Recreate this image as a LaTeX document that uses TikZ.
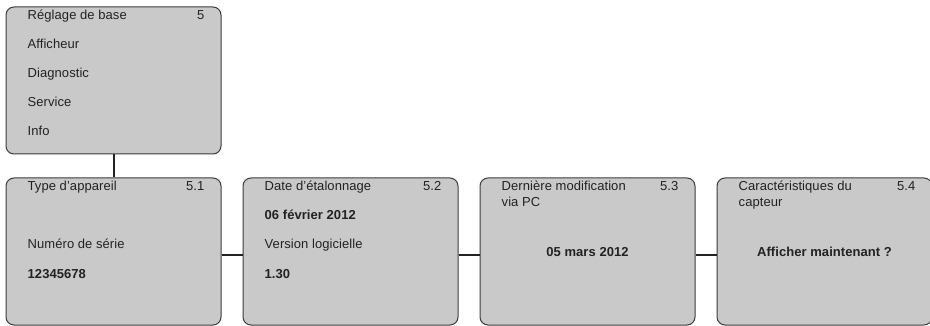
\documentclass[tikz,border=0pt]{standalone}
\usepackage{fontspec}
\setmainfont[LetterSpace=0.5]{Liberation Sans}
\usepackage{tikz}
\usetikzlibrary{positioning,calc}
\definecolor{panelgray}{HTML}{C9C9C9}
\definecolor{framegray}{HTML}{3C3C3C}
\definecolor{inkgray}{HTML}{222222}

\begin{document}
\begin{tikzpicture}[
  x=1pt, y=-1pt,
  font=\fontsize{13}{16}\selectfont,
  node distance=21pt,
  panel/.style={rounded corners=8pt, draw=framegray, line width=1pt, fill=panelgray, minimum width=215pt, minimum height=147pt, inner sep=0pt},
  entry/.style={anchor=base west, inner sep=0pt, text=inkgray, align=left},
  idx/.style={anchor=base east, inner sep=0pt, text=inkgray},
  value/.style={entry, font=\fontsize{13}{16}\selectfont\bfseries},
  link/.style={line width=2pt, draw=inkgray}
]
\useasboundingbox (0,0) rectangle (930,326);
\node[panel] (base) at (113.5,80.5) {};
\node[panel, below=23pt of base] (devtype) {};
\node[panel, right=of devtype] (calib) {};
\node[panel, right=of calib] (lastmod) {};
\node[panel, right=of lastmod] (sensor) {};
% main menu
\node[entry] (menuA) at ($(base.north west)+(22,13)$) {Réglage de base};
\node[idx] (menuN) at ($(base.north east)+(-17,13)$) {5};
\node[entry] (menuB) at ($(base.north west)+(22,42)$) {Afficheur};
\node[entry] (menuC) at ($(base.north west)+(22,71)$) {Diagnostic};
\node[entry] (menuD) at ($(base.north west)+(22,100)$) {Service};
\node[entry] (menuE) at ($(base.north west)+(22,129)$) {Info};
% 5.1
\node[entry] (typeT) at ($(devtype.north west)+(22,13)$) {Type d'appareil};
\node[idx] (typeN) at ($(devtype.north east)+(-17,13)$) {5.1};
\node[entry] (serialT) at ($(devtype.north west)+(22,71)$) {Numéro de série};
\node[value] (serialV) at ($(devtype.north west)+(22,101)$) {12345678};
% 5.2
\node[entry] (calibT) at ($(calib.north west)+(22,13)$) {Date d'étalonnage};
\node[idx] (calibN) at ($(calib.north east)+(-17,13)$) {5.2};
\node[value] (calibV) at ($(calib.north west)+(22,42)$) {06 février 2012};
\node[entry] (softT) at ($(calib.north west)+(22,71)$) {Version logicielle};
\node[value] (softV) at ($(calib.north west)+(22,101)$) {1.30};
% 5.3 (base is on the last line)
\node[entry] (lastmodT) at ($(lastmod.north west)+(22,29)$) {Dernière modification\\via PC};
\node[idx] (lastmodN) at ($(lastmod.north east)+(-17,13)$) {5.3};
\node[value, anchor=base] (lastmodV) at ($(lastmod.north)+(0,79)$) {05 mars 2012};
% 5.4
\node[entry] (sensorT) at ($(sensor.north west)+(22,29)$) {Caractéristiques du\\capteur};
\node[idx] (sensorN) at ($(sensor.north east)+(-17,13)$) {5.4};
\node[value, anchor=base] (sensorV) at ($(sensor.north)+(0,79)$) {Afficher maintenant ?};
\draw[link] (base.south) -- (devtype.north);
\draw[link] ([yshift=-3pt]devtype.east) -- ([yshift=-3pt]calib.west);
\draw[link] ([yshift=-3pt]calib.east) -- ([yshift=-3pt]lastmod.west);
\draw[link] ([yshift=-3pt]lastmod.east) -- ([yshift=-3pt]sensor.west);
\end{tikzpicture}
\end{document}
